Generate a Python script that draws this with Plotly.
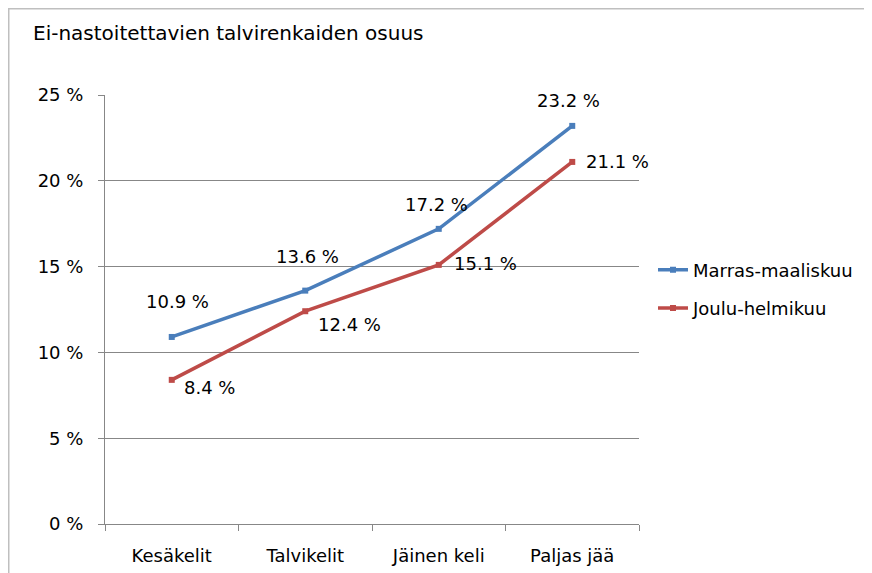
import plotly.graph_objects as go

categories = ["Kesäkelit", "Talvikelit", "Jäinen keli", "Paljas jää"]
marras = [10.9, 13.6, 17.2, 23.2]
joulu = [8.4, 12.4, 15.1, 21.1]
series_names = ["Marras-maaliskuu", "Joulu-helmikuu"]
title_text = "Ei-nastoitettavien talvirenkaiden osuus"
y_ticks = [0, 5, 10, 15, 20, 25]

# label offsets (styling, pixels)
blue_dx = [6, 2, -2, -4]
blue_dy = [35, 34, 24, 25]
red_dx = [10, 11, 13, 12]
red_dy = [-8, -13, 1, 0]

BLUE = "#4A7EBB"
RED = "#BE4B48"
FONT = "DejaVu Sans"
GRID = "#878787"

# page has an 8px body margin; figure coords = screen - 8
OFF = 8
L, T, W, H = 105 - OFF, 95 - OFF, 534, 429
FW, FH = 872, 573


def px(xs):
    return (xs - OFF - L) / W


def py(ys):
    return (T + H - (ys - OFF)) / H


fig = go.Figure()
fig.add_trace(go.Scatter(
    x=categories, y=marras, name=series_names[0], mode="lines+markers",
    line=dict(color=BLUE, width=3.5), marker=dict(symbol="square", size=6, color=BLUE),
    legendgroup="a"))
fig.add_trace(go.Scatter(
    x=categories, y=joulu, name=series_names[1], mode="lines+markers",
    line=dict(color=RED, width=3.5), marker=dict(symbol="square", size=6, color=RED),
    legendgroup="b"))

for i, c in enumerate(categories):
    fig.add_annotation(x=c, y=marras[i], text=f"{marras[i]:.1f} %", showarrow=False,
                       xanchor="center", yanchor="middle", xshift=blue_dx[i], yshift=blue_dy[i],
                       font=dict(family=FONT, size=18, color="#000000"))
    fig.add_annotation(x=c, y=joulu[i], text=f"{joulu[i]:.1f} %", showarrow=False,
                       xanchor="left", yanchor="middle", xshift=red_dx[i], yshift=red_dy[i],
                       font=dict(family=FONT, size=18, color="#000000"))

# outer chart border (top and left visible)
fig.add_shape(type="rect", xref="paper", yref="paper",
              x0=(0.75 - L) / W, x1=(FW + 20 - L) / W,
              y0=(T + H - (FH + 20)) / H, y1=(T + H - 0.75) / H,
              line=dict(color="#BFBFBF", width=1.5), fillcolor="rgba(0,0,0,0)", layer="below")

fig.update_layout(
    width=FW, height=FH,
    margin=dict(l=L, r=FW - L - W, t=T, b=FH - T - H),
    paper_bgcolor="white", plot_bgcolor="white",
    font=dict(family=FONT, size=18, color="#000000"),
    title=dict(text=title_text, x=(33 - OFF) / FW, xanchor="left", xref="container",
               y=1 - (33 - OFF) / FH, yanchor="middle", yref="container",
               font=dict(family=FONT, size=20, color="#000000")),
    showlegend=True,
    legend=dict(x=px(653), xanchor="left", y=py(289), yanchor="middle",
                font=dict(family=FONT, size=18, color="#000000"), traceorder="grouped",
                tracegroupgap=12, bgcolor="rgba(0,0,0,0)"),
    xaxis=dict(type="category", showgrid=False, showline=True, linecolor=GRID, linewidth=1,
               ticks="outside", tickson="boundaries", ticklen=6, tickcolor=GRID,
               ticklabelstandoff=15, range=[-0.5, 3.5], fixedrange=True),
    yaxis=dict(range=[0, 25], tickvals=y_ticks, ticktext=[f"{v} %" for v in y_ticks],
               showgrid=True, gridcolor=GRID, gridwidth=1, showline=True, linecolor=GRID,
               linewidth=1, ticks="outside", ticklen=6, tickcolor=GRID, ticklabelstandoff=11,
               zeroline=False, fixedrange=True),
)

fig.write_html("out.html")
